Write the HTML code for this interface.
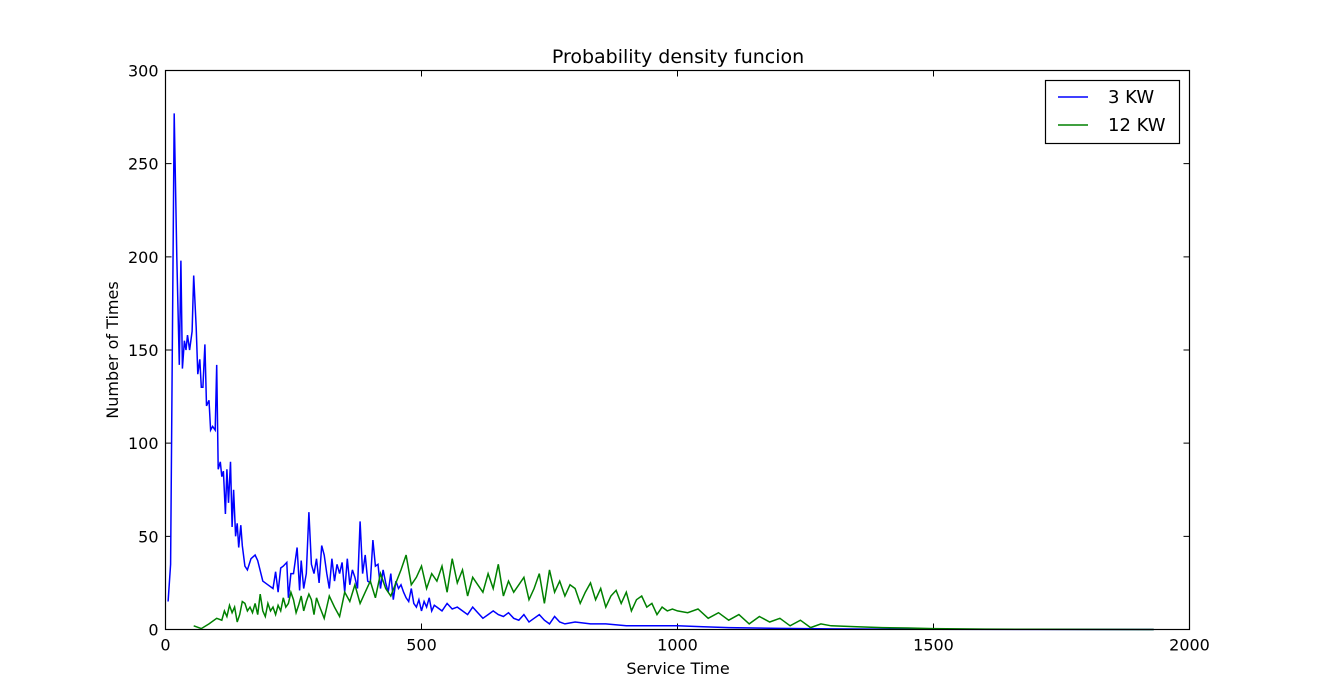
<!DOCTYPE html>
<html><head><meta charset="utf-8"><style>
body{margin:0;background:#fff;}
svg{display:block;font-family:"DejaVu Sans","Liberation Sans",sans-serif;}
</style></head><body>
<svg id="chart" width="1322" height="700">
<rect x="0" y="0" width="1322" height="700" fill="#fff"/>
<text x="678" y="63" text-anchor="middle" font-size="19">Probability density funcion</text>
<text x="678" y="674" text-anchor="middle" font-size="16">Service Time</text>
<text x="118" y="350" text-anchor="middle" font-size="16" transform="rotate(-90 118 350)">Number of Times</text>
<g id="axes"></g>
<g id="series"></g>
<rect x="165.5" y="70.5" width="1024" height="559" fill="none" stroke="#000" stroke-width="1.2"/>
<g>
<rect x="1045.5" y="80.5" width="134" height="63" fill="#fff" stroke="#000" stroke-width="1.2"/>
<line x1="1058" y1="97" x2="1088" y2="97" stroke="#0000ff" stroke-width="1.5"/>
<text x="1108" y="103" font-size="18">3 KW</text>
<line x1="1058" y1="125" x2="1088" y2="125" stroke="#008000" stroke-width="1.5"/>
<text x="1108" y="131" font-size="18">12 KW</text>
</g>
</svg>
<script>
const xTicks=[0,500,1000,1500,2000];
const yTicks=[0,50,100,150,200,250,300];
const blueX=[5,10,17,22,27,30,33,37,40,43,47,52,55,60,63,67,70,73,77,80,85,88,92,97,100,103,107,110,113,117,120,123,127,130,133,137,140,143,147,150,155,160,167,175,180,190,200,210,215,220,225,230,237,240,245,250,257,262,265,270,275,280,285,290,295,300,305,310,315,320,325,330,335,340,345,350,355,360,365,370,375,380,385,390,395,400,405,410,415,420,425,430,435,440,445,450,455,460,465,470,475,480,485,490,495,500,505,510,515,520,525,530,540,550,560,570,580,590,600,610,620,630,640,650,660,670,680,690,700,710,720,730,740,750,760,770,780,800,830,860,900,950,1000,1050,1100,1150,1200,1300,1500,1930];
const blueY=[15,35,277,200,142,198,140,155,150,158,150,160,190,162,137,145,130,130,153,120,123,107,109,107,142,86,90,82,85,62,86,68,90,55,75,50,57,44,56,45,34,32,38,40,37,26,24,22,31,20,33,34,36,17,30,30,44,21,37,22,30,63,35,30,38,25,45,40,30,22,38,26,35,30,36,20,38,24,32,28,22,58,30,40,26,25,48,34,35,22,32,25,20,30,16,26,22,24,20,17,15,22,14,12,16,10,15,12,17,10,13,12,10,14,11,12,10,8,12,9,6,8,10,8,7,9,6,5,8,4,6,8,5,3,7,4,3,4,3,3,2,2,2,1.5,1,0.8,0.6,0.3,0.1,0];
const greenX=[55,70,85,100,110,115,120,125,130,135,140,145,150,155,160,165,170,175,180,185,190,195,200,205,210,215,220,225,230,235,240,245,250,255,260,265,270,275,280,285,290,295,300,310,320,330,340,350,360,370,380,390,400,410,420,430,440,450,460,470,480,490,500,510,520,530,540,550,560,570,580,590,600,610,620,630,640,650,660,670,680,690,700,710,720,730,740,750,760,770,780,790,800,810,820,830,840,850,860,870,880,890,900,910,920,930,940,950,960,970,980,990,1000,1020,1040,1060,1080,1100,1120,1140,1160,1180,1200,1220,1240,1260,1280,1300,1350,1400,1450,1500,1600,1700,1930];
const greenY=[2,0.5,3,6,5,10,7,13,9,12,4,8,15,14,10,12,9,14,8,19,10,7,14,10,12,8,13,10,17,12,14,20,16,9,13,18,10,15,19,16,8,17,13,6,18,12,7,20,15,24,14,20,26,17,30,22,18,25,32,40,24,28,34,22,30,26,34,20,38,25,32,18,28,24,20,30,22,35,18,26,20,24,28,16,22,30,14,32,20,26,18,24,22,14,20,25,16,22,12,18,21,14,20,10,16,18,12,14,8,12,10,11,10,9,11,6,9,5,8,3,7,4,6,2,5,1,3,2,1.5,1,0.8,0.5,0.2,0.1,0];
const NS='http://www.w3.org/2000/svg';
const X0=165.5,X1=1189.5,Y0=629.5,Y1=70.5;
function sx(v){return X0+(v-0)/2000*(X1-X0);}
function sy(v){return Y0-(v/300)*(Y0-Y1);}
const axes=document.getElementById('axes');
xTicks.forEach(t=>{
  const x=sx(t);
  const l=document.createElementNS(NS,'path');
  l.setAttribute('d',`M${x},${Y0}v-6M${x},${Y1}v6`);
  l.setAttribute('stroke','#000');
  
  
  axes.appendChild(l);
  const tx=document.createElementNS(NS,'text');
  tx.setAttribute('x',x);tx.setAttribute('y',Y0+21);
  tx.setAttribute('text-anchor','middle');tx.setAttribute('font-size','16');
  tx.textContent=t;
  
  
  axes.appendChild(tx);
});
yTicks.forEach(t=>{
  const y=sy(t);
  const l=document.createElementNS(NS,'path');
  l.setAttribute('d',`M${X0},${y}h6M${X1},${y}h-6`);
  l.setAttribute('stroke','#000');
  
  
  axes.appendChild(l);
  const tx=document.createElementNS(NS,'text');
  tx.setAttribute('x',X0-7);tx.setAttribute('y',y+6);
  tx.setAttribute('text-anchor','end');tx.setAttribute('font-size','16');
  tx.textContent=t;
  
  
  axes.appendChild(tx);
});
const series=document.getElementById('series');
function line(xs,ys,color,name){
  const p=document.createElementNS(NS,'polyline');
  p.setAttribute('points',xs.map((x,i)=>sx(x).toFixed(1)+','+sy(ys[i]).toFixed(1)).join(' '));
  p.setAttribute('fill','none');p.setAttribute('stroke',color);p.setAttribute('stroke-width','1.5');
  
  
  series.appendChild(p);
}
line(blueX,blueY,'#0000ff','series-3kw');
line(greenX,greenY,'#008000','series-12kw');
</script>
</body></html>
